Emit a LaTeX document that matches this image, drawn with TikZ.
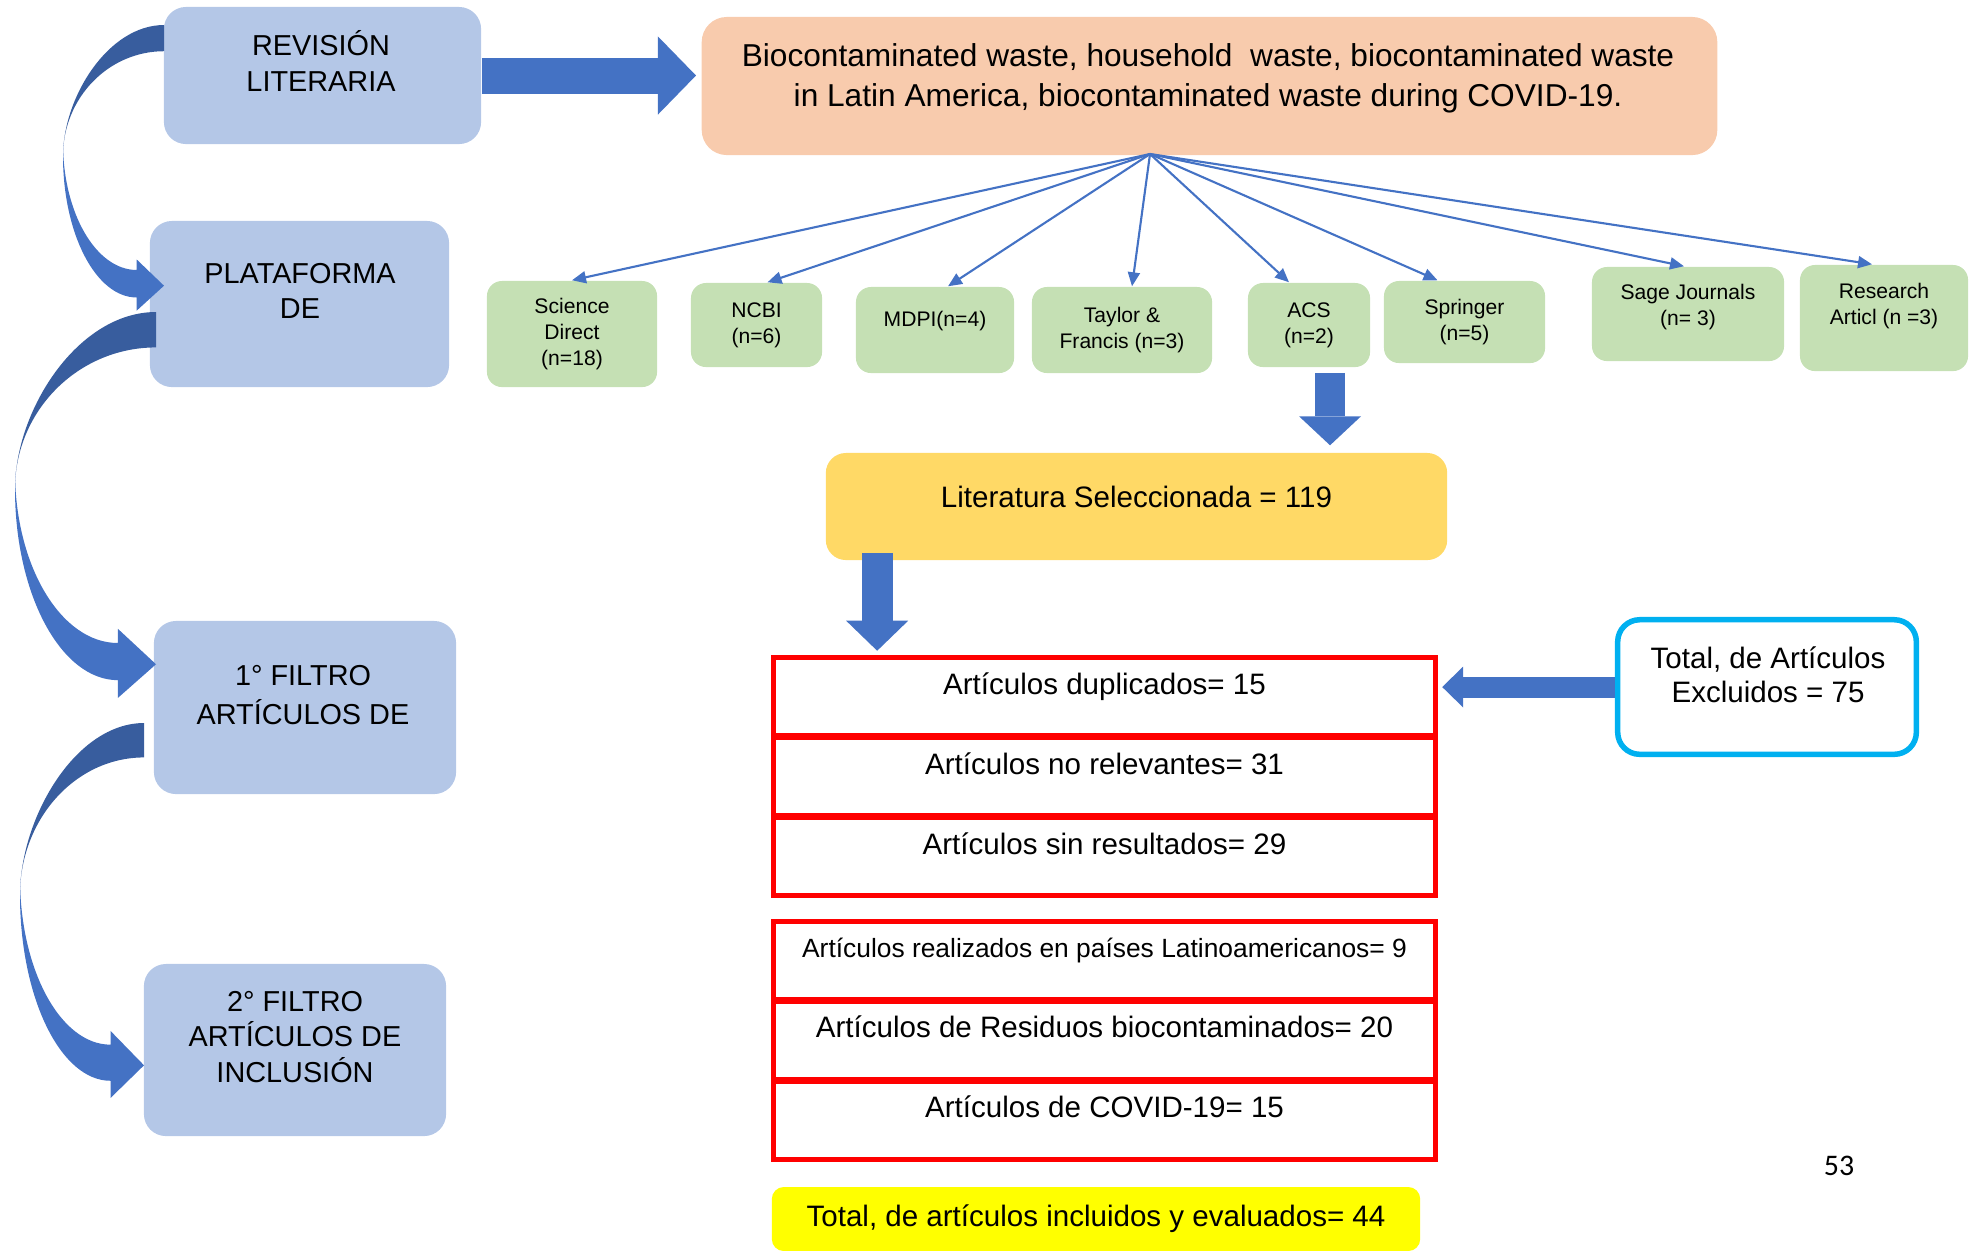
\documentclass[tikz,border=0pt]{standalone}
\usepackage{fontspec}
\setmainfont{Liberation Sans}
\newfontfamily\pagefont{Carlito}
\usetikzlibrary{arrows.meta, positioning}

\definecolor{boxblue}{HTML}{B4C7E7}
\definecolor{boxorange}{HTML}{F8CBAD}
\definecolor{boxgreen}{HTML}{C5E0B4}
\definecolor{boxgold}{HTML}{FFD966}
\definecolor{boxyellow}{HTML}{FFFF00}
\definecolor{arrowblue}{HTML}{4472C4}
\definecolor{arrowdark}{HTML}{385D9E}
\definecolor{rowred}{HTML}{FF0000}
\definecolor{framecyan}{HTML}{00B0F0}

\tikzset{
  bluebox/.style={fill=boxblue, rounded corners=0.22cm},
  greenbox/.style={fill=boxgreen, rounded corners=0.15cm, align=center, inner sep=0pt,
    font=\fontsize{6}{7.3}\selectfont},
  redrow/.style={draw=rowred, line width=0.05cm, outer sep=0pt, minimum width=6.62cm,
    minimum height=0.775cm, text height=0.22cm, text depth=0.27cm, inner sep=0pt,
    font=\fontsize{8.4}{10}\selectfont},
  lbl/.style={align=center, inner sep=0pt, font=\fontsize{8.2}{10}\selectfont},
  fanarrow/.style={arrowblue, line width=0.6pt, -{Triangle[length=0.14cm, width=0.12cm]}},
  fatarrow/.style n args={3}{arrowblue, line width=#1,
    -{Triangle[length=#2, width=#3, line width=0pt]}}
}

\begin{document}
\begin{tikzpicture}[x=0.01cm, y=-0.01cm]
\useasboundingbox (0,0) rectangle (1977,1250);

% stages on the left
\node[bluebox, minimum width=3.17cm, minimum height=1.37cm] (rev) at (322.5,75.5) {};
\node[bluebox, minimum width=2.99cm, minimum height=1.66cm] (plat) at (299.5,304) {};
\node[bluebox, minimum width=3.02cm, minimum height=1.73cm] (filtro1) at (305,707.5) {};
\node[bluebox, minimum width=3.02cm, minimum height=1.72cm] (filtro2) at (295,1050) {};
\node[lbl] (revtxt) at (321,61) {REVISIÓN\\LITERARIA};
\node[lbl] (plattxt) at (300,291) {PLATAFORMA\\DE};
\node[lbl, font=\fontsize{8.2}{11}\selectfont] (filtro1txt) at (303,695) {1° FILTRO\\ARTÍCULOS DE};
\node[lbl] (filtro2txt) at (295,1037) {2° FILTRO\\ARTÍCULOS DE\\INCLUSIÓN};

% search terms
\node[fill=boxorange, rounded corners=0.25cm, minimum width=10.15cm, minimum height=1.38cm] (topic) at (1209.5,86) {};
\node[lbl, font=\fontsize{9}{11.4}\selectfont] (topictxt) at (1208,78)
  {Biocontaminated waste, household\ \ waste, biocontaminated waste\\in Latin America, biocontaminated waste during COVID-19.};
\draw[fatarrow={0.36cm}{0.38cm}{0.78cm}, shorten >=0.05cm] (rev.east) -- (rev.east -| topic.west);

% databases
\coordinate (fan) at (1150,154);
\node[greenbox, minimum width=1.70cm, minimum height=1.06cm] (sd) at (572,334) {Science\\Direct\\(n=18)};
\node[greenbox, minimum width=1.31cm, minimum height=0.84cm] (ncbi) at (756.5,325) {NCBI\\(n=6)};
\node[greenbox, minimum width=1.58cm, minimum height=0.86cm, text height=0.16cm, text depth=0.225cm] (mdpi) at (935,330) {MDPI(n=4)};
\node[greenbox, minimum width=1.80cm, minimum height=0.86cm] (tf) at (1122,330) {Taylor \&\\Francis (n=3)};
\node[greenbox, minimum width=1.22cm, minimum height=0.84cm] (acs) at (1309,325) {ACS\\(n=2)};
\node[greenbox, minimum width=1.61cm, minimum height=0.82cm] (spr) at (1464.5,322) {Springer\\(n=5)};
\node[greenbox, minimum width=1.92cm, minimum height=0.94cm] (sage) at (1688,314) {};
\node[greenbox, minimum width=1.68cm, minimum height=1.06cm] (ra) at (1884,318) {};
\node[lbl, font=\fontsize{6}{7.3}\selectfont] (sagetxt) at (1688,307) {Sage Journals\\(n= 3)};
\node[lbl, font=\fontsize{6}{7.3}\selectfont] (ratxt) at (1884,306) {Research\\Articl (n =3)};
\foreach \b/\dx in {sd/0, ncbi/11, mdpi/13, tf/10, acs/-20, spr/-27, sage/-4, ra/-12}
  \draw[fanarrow] (fan) -- ([xshift=\dx*0.01cm]\b.north);

% selection
\node[fill=boxgold, rounded corners=0.2cm, minimum width=6.21cm, minimum height=1.07cm,
  text height=0.22cm, text depth=0.195cm, font=\fontsize{8.4}{10}\selectfont] (lit) at (1136.5,506.5) {Literatura Seleccionada = 119};
\draw[fatarrow={0.30cm}{0.29cm}{0.62cm}, shorten <=0.05cm, shorten >=0.07cm]
  ([xshift=0.21cm]acs.south) -- ([xshift=0.21cm]acs.south |- lit.north);

% first filter
\node[redrow] (dup) at (1104.5,696.5) {Artículos duplicados= 15};
\node[redrow, below=0.025cm of dup] (norel) {Artículos no relevantes= 31};
\node[redrow, below=0.025cm of norel] (sinres) {Artículos sin resultados= 29};
\draw[fatarrow={0.31cm}{0.30cm}{0.62cm}, shorten >=0.07cm]
  ([xshift=0.52cm, yshift=0.08cm]lit.south west) -- ([xshift=0.52cm]lit.south west |- dup.north);

% second filter
\node[redrow, font=\fontsize{7.5}{9}\selectfont] (latam) at (1104.5,960.25) {Artículos realizados en países Latinoamericanos= 9};
\node[redrow, below=0.025cm of latam] (resid) {Artículos de Residuos biocontaminados= 20};
\node[redrow, below=0.025cm of resid] (covid) {Artículos de COVID-19= 15};

% excluded
\node[draw=framecyan, line width=0.055cm, rounded corners=0.22cm, minimum width=2.985cm, minimum height=1.345cm] (excl) at (1767,687) {};
\node[lbl, font=\fontsize{8.4}{9.7}\selectfont] (excltxt) at (1768,675) {Total, de Artículos\\Excluidos = 75};
\draw[fatarrow={0.21cm}{0.21cm}{0.41cm}, shorten >=0.065cm] (excl.west) -- (excl.west -| dup.east);

% included
\node[fill=boxyellow, rounded corners=0.12cm, minimum width=6.48cm, minimum height=0.64cm,
  font=\fontsize{8.4}{10}\selectfont] (total) at (1096,1219) {Total, de artículos incluidos y evaluados= 44};
\node[font=\pagefont\fontsize{8.5}{10}\selectfont] (pagenum) at (1839,1166) {53};

% bent arrows between the stages
\foreach \lx/\my/\w/\h in {63/156/101/131, 15/489/141/177, 20/895/124/172}{
  \begin{scope}[shift={(\lx,\my)}, xscale=\w, yscale=\h]
    \fill[arrowdark] (1,-1) .. controls (0.448,-1) and (0,-0.448) .. (0,0)
      .. controls (0,-0.442) and (0.448,-0.8) .. (1,-0.8) -- cycle;
    \fill[arrowblue] (0,-0.1) .. controls (0,0.435) and (0.327,0.87) .. (0.73,0.87)
      -- (0.73,0.79) -- (1,0.99) -- (0.73,1.18) -- (0.73,1.08)
      .. controls (0.327,1.08) and (0,0.596) .. (0,0) -- cycle;
  \end{scope}
}
\end{tikzpicture}
\end{document}
